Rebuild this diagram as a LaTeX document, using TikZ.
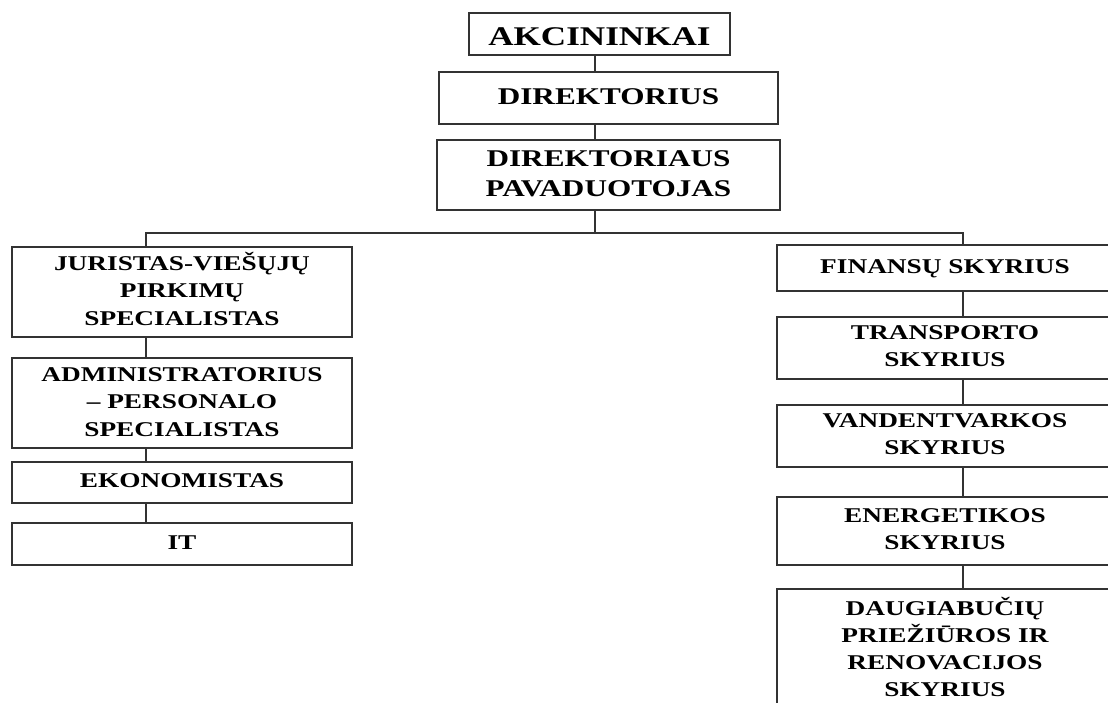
\documentclass[tikz,border=0pt]{standalone}
\usepackage{fontspec}
\setmainfont{Liberation Serif}
\usepackage{graphicx}
\newcommand\boxtxt[3]{\scalebox{1.3}[1]{\fontsize{#1}{#2}\selectfont\bfseries\begin{tabular}{@{}c@{}}#3\end{tabular}}}
\begin{document}
\begin{tikzpicture}[x=1pt,y=-1pt,
  bx/.style={draw=black!80, line width=1.5pt, inner sep=0pt, align=center},
  ln/.style={draw=black!80, line width=1.5pt}]
\clip (0,0) rectangle (1108,702);
\fill[white] (0,0) rectangle (1108,702);
% top
\node[bx, minimum width=261pt, minimum height=42pt, text height=23pt, text depth=0pt] (ak) at (599.5,34) {\boxtxt{27}{30}{AKCININKAI}};
\node[bx, minimum width=339pt, minimum height=52pt] (dir) at (608.5,98) {\boxtxt{24}{30}{DIREKTORIUS}};
\node[bx, minimum width=343pt, minimum height=70pt] (pav) at (608.5,175) {\boxtxt{24}{30}{DIREKTORIAUS\\PAVADUOTOJAS}};
% left
\node[bx, minimum width=340pt, minimum height=90pt] (jur) at (182,292) {\boxtxt{21}{27.5}{JURISTAS-VIEŠŲJŲ\\PIRKIMŲ\\SPECIALISTAS}};
\node[bx, minimum width=340pt, minimum height=90pt] (adm) at (182,403) {\boxtxt{21}{27.5}{ADMINISTRATORIUS\\– PERSONALO\\SPECIALISTAS}};
\node[bx, minimum width=340pt, minimum height=41pt] (eko) at (182,482.5) {\boxtxt{21}{27}{EKONOMISTAS}};
\node[bx, minimum width=340pt, minimum height=42pt] (it) at (182,544) {\boxtxt{21}{27}{IT}};
% right
\node[bx, minimum width=336pt, minimum height=46pt] (fin) at (945,268) {\boxtxt{21}{27}{FINANSŲ SKYRIUS}};
\node[bx, minimum width=336pt, minimum height=62pt] (tra) at (945,348) {\boxtxt{21}{27}{TRANSPORTO\\SKYRIUS}};
\node[bx, minimum width=336pt, minimum height=62pt] (van) at (945,436) {\boxtxt{21}{27}{VANDENTVARKOS\\SKYRIUS}};
\node[bx, minimum width=336pt, minimum height=68pt] (ene) at (945,531) {\boxtxt{21}{27}{ENERGETIKOS\\SKYRIUS}};
\node[bx, minimum width=336pt, minimum height=130pt, anchor=north] (dau) at (945,588) {};
\node[align=center] (dautxt) at (945,651) {\boxtxt{21}{27}{DAUGIABUČIŲ\\PRIEŽIŪROS IR\\RENOVACIJOS\\SKYRIUS}};
% connectors
\coordinate (xc) at (595,0);
\coordinate (bl) at (146,233);
\coordinate (br) at (963,233);
\draw[ln] (ak.south -| xc) -- (dir.north -| xc);
\draw[ln] (dir.south -| xc) -- (pav.north -| xc);
\draw[ln] (pav.south -| xc) -- (bl -| xc);
\draw[ln] (jur.north -| bl) -- (bl) -- (br) -- (fin.north -| br);
\draw[ln] (jur.south -| bl) -- (adm.north -| bl);
\draw[ln] (adm.south -| bl) -- (eko.north -| bl);
\draw[ln] (eko.south -| bl) -- (it.north -| bl);
\draw[ln] (fin.south -| br) -- (tra.north -| br);
\draw[ln] (tra.south -| br) -- (van.north -| br);
\draw[ln] (van.south -| br) -- (ene.north -| br);
\draw[ln] (ene.south -| br) -- (dau.north -| br);
\end{tikzpicture}
\end{document}
